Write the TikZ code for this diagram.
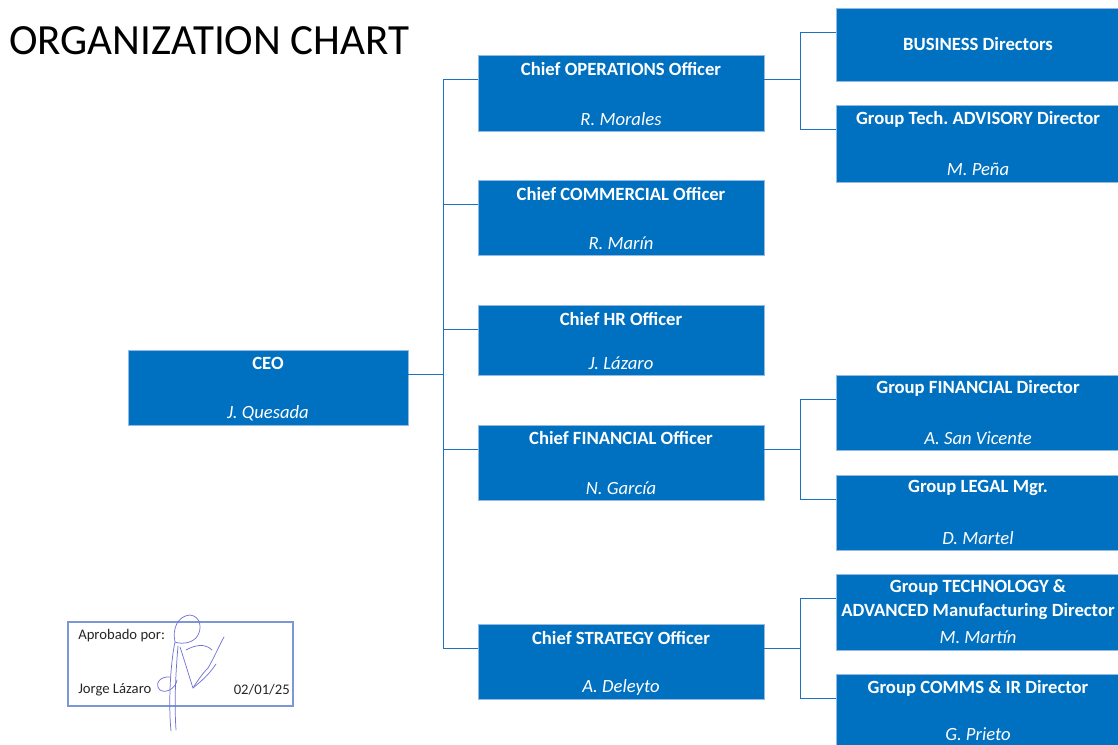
\documentclass[tikz,border=0pt]{standalone}
\usepackage{fontspec}
\setmainfont{Carlito}
\usetikzlibrary{fit,calc}
\frenchspacing
\definecolor{boxblue}{RGB}{0,112,192}
\definecolor{edgeblue}{RGB}{150,185,225}
\definecolor{linkblue}{RGB}{30,112,192}
\definecolor{sigblue}{RGB}{115,115,215}
\definecolor{frameblue}{RGB}{125,150,215}
\begin{document}
\begin{tikzpicture}[x=0.75pt,y=-0.75pt,
  box/.style={draw=edgeblue, fill=boxblue, line width=0.6pt, inner sep=0pt},
  ttl/.style={text=white, font=\bfseries\fontsize{14}{16}\selectfont, inner sep=0pt},
  nm/.style={text=white, font=\itshape\fontsize{14}{16}\selectfont, inner sep=0pt},
  link/.style={draw=linkblue, line width=1pt},
  sigframe/.style={draw=frameblue, line width=1.3pt, inner sep=0pt},
  sigtext/.style={font=\fontsize{11}{13}\selectfont, text=black!85, inner sep=0pt},
  scribble/.style={draw=sigblue, line width=0.55pt, line cap=round, line join=round}]
\useasboundingbox (0,0) rectangle (1118,745);

% title
\node[anchor=west, inner sep=0pt, font=\fontsize{32.3}{38}\selectfont] (title) at (9,41) {ORGANIZATION CHART};

% CEO
\node[box, fit={(128,350) (408,425)}] (ceo) {};
\node[ttl] (ceoT) at (268,363) {CEO};
\node[nm] (ceoN) at (268,413) {J. Quesada};

% chiefs
\node[box, fit={(478,55) (764,131)}] (ops) {};
\node[ttl] (opsT) at (621,69) {Chief OPERATIONS Officer};
\node[nm] (opsN) at (621,119) {R. Morales};

\node[box, fit={(478,180) (764,255)}] (com) {};
\node[ttl] (comT) at (621,194) {Chief COMMERCIAL Officer};
\node[nm] (comN) at (621,243) {R. Marín};

\node[box, fit={(478,305) (764,375)}] (hr) {};
\node[ttl] (hrT) at (621,319) {Chief HR Officer};
\node[nm] (hrN) at (621,363) {J. Lázaro};

\node[box, fit={(478,425) (764,500)}] (fin) {};
\node[ttl] (finT) at (621,438) {Chief FINANCIAL Officer};
\node[nm] (finN) at (621,488) {N. García};

\node[box, fit={(478,624) (764,699)}] (str) {};
\node[ttl] (strT) at (621,638) {Chief STRATEGY Officer};
\node[nm] (strN) at (621,688) {A. Deleyto};

% directors
\node[box, fit={(836,8) (1120,81)}] (bus) {};
\node[ttl] (busT) at (978,44) {BUSINESS Directors};

\node[box, fit={(836,105) (1120,182)}] (adv) {};
\node[ttl] (advT) at (978,119) {Group Tech. ADVISORY Director};
\node[nm] (advN) at (978,169) {M. Peña};

\node[box, fit={(836,375) (1120,450)}] (gfin) {};
\node[ttl] (gfinT) at (978,388) {Group FINANCIAL Director};
\node[nm] (gfinN) at (978,438) {A. San Vicente};

\node[box, fit={(836,475) (1120,550)}] (leg) {};
\node[ttl] (legT) at (978,488) {Group LEGAL Mgr.};
\node[nm] (legN) at (978,538) {D. Martel};

\node[box, fit={(836,574) (1120,650)}] (tech) {};
\node[ttl] (techT1) at (978,588) {Group TECHNOLOGY \&};
\node[ttl] (techT2) at (978,612) {ADVANCED Manufacturing Director};
\node[nm] (techN) at (978,637) {M. Martín};

\node[box, fit={(836,674) (1120,750)}] (comms) {};
\node[ttl] (commsT) at (978,688) {Group COMMS \& IR Director};
\node[nm] (commsN) at (978,734) {G. Prieto};

% connectors
\coordinate (trunk) at ($(ceo.north east)+(35,25)$);
\draw[link] ($(ceo.north east)+(0,25)$) -- (trunk);
\foreach \b in {ops,com,hr,fin,str}{
  \draw[link] (trunk) |- ($(\b.north west)+(0,25)$);
}
\foreach \p/\a/\c in {ops/bus/adv, fin/gfin/leg, str/tech/comms}{
  \coordinate (j\p) at ($(\p.north east)+(36,25)$);
  \draw[link] ($(\p.north east)+(0,25)$) -- (j\p);
  \draw[link] (j\p) |- ($(\a.north west)+(0,25)$);
  \draw[link] (j\p) |- ($(\c.north west)+(0,25)$);
}

% approval box
\node[sigframe, fit={(68,622) (293,706)}] (sig) {};
\node[sigtext, anchor=west] (apr) at (78,636) {Aprobado por:};
\node[sigtext, anchor=west] (who) at (78,690) {Jorge Lázaro};
\node[sigtext, anchor=east] (date) at (290,690) {02/01/25};

% signature scribble
\draw[scribble] (175,642) .. controls (172,628) and (178,616) .. (190,615)
  .. controls (201,616) and (203,630) .. (196,638)
  .. controls (190,644) and (180,644) .. (175,642)
  .. controls (171,660) and (168,700) .. (171,731);
\draw[scribble] (178,646) .. controls (176,670) and (174,700) .. (176,730);
\draw[scribble] (170,677) .. controls (160,676) and (154,684) .. (160,690)
  .. controls (166,694) and (176,688) .. (177,680);
\draw[scribble] (180,647) .. controls (185,662) and (189,676) .. (193,688)
  .. controls (198,680) and (203,673) .. (208,668)
  .. controls (214,658) and (219,646) .. (224,637);
\draw[scribble] (193,688) .. controls (200,682) and (208,676) .. (216,664);
\draw[scribble] (186,650) .. controls (195,645) and (205,643) .. (212,650);
\end{tikzpicture}
\end{document}
